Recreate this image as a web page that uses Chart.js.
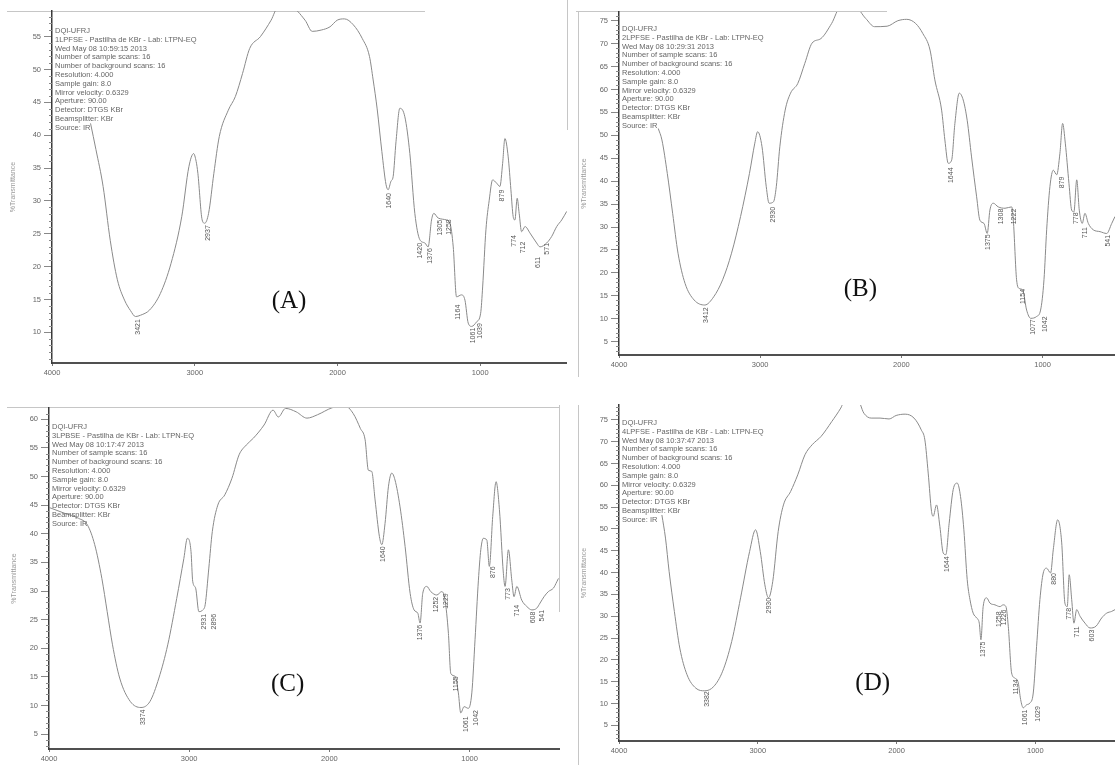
<!DOCTYPE html>
<html>
<head>
<meta charset="utf-8">
<script src="https://cdn.jsdelivr.net/npm/chart.js@4.4.0/dist/chart.umd.min.js"></script>
<style>
  body { margin: 0; background: #fff; width: 1115px; height: 770px; position: relative; overflow: hidden; }
  canvas { position: absolute; }
  .rule { position: absolute; background: #c6c6c6; }
</style>
</head>
<body>
<div class="rule" style="left:7px;top:11px;width:418px;height:1px"></div>
<div class="rule" style="left:576px;top:11px;width:311px;height:1px"></div>
<div class="rule" style="left:578px;top:12px;width:1px;height:365px"></div>
<div class="rule" style="left:567px;top:0px;width:1px;height:130px"></div>
<div class="rule" style="left:7px;top:407px;width:552px;height:1px"></div>
<div class="rule" style="left:559px;top:405px;width:1px;height:207px"></div>
<div class="rule" style="left:578px;top:405px;width:1px;height:360px"></div>

<canvas id="chartA" width="567" height="385" style="left:0;top:0"></canvas>
<canvas id="chartB" width="548" height="385" style="left:567px;top:0"></canvas>
<canvas id="chartC" width="560" height="385" style="left:0;top:385px"></canvas>
<canvas id="chartD" width="548" height="385" style="left:567px;top:385px"></canvas>

<script>
// wavenumber ticks shared by all panels
const xTicks = [4000, 3000, 2000, 1000];

// ---- (A) ----
const waveA = [3730, 3692, 3642, 3592, 3542, 3492, 3450, 3415, 3380, 3316, 3241, 3166, 3091, 3041, 3008, 2990, 2978, 2948, 2930, 2903, 2866, 2828, 2765, 2715, 2665, 2615, 2540, 2465, 2415, 2330, 2227, 2177, 2114, 2052, 2002, 1951, 1889, 1826, 1776, 1750, 1722, 1689, 1660, 1645, 1625, 1610, 1590, 1563, 1528, 1493, 1458, 1423, 1388, 1365, 1341, 1325, 1295, 1236, 1212, 1189, 1166, 1131, 1107, 1084, 1060, 1025, 997, 983, 960, 937, 913, 885, 862, 843, 827, 804, 785, 769, 757, 741, 727, 710, 686, 651, 605, 581, 534, 499, 464, 429, 394];
const transA = [41.8, 37.8, 32.2, 24.0, 18.0, 14.9, 13.3, 12.4, 12.6, 13.4, 15.9, 20.5, 27.6, 35.2, 37.2, 36.0, 34.2, 27.1, 26.6, 28.1, 34.2, 39.8, 43.8, 45.9, 49.4, 53.2, 55.0, 57.5, 59.5, 59.5, 57.5, 55.8, 56.0, 56.5, 57.5, 57.7, 56.8, 54.7, 52.0, 48.4, 44.0, 37.5, 32.5, 31.7, 33.0, 33.7, 39.0, 44.1, 42.8, 37.2, 28.1, 24.1, 23.6, 23.0, 27.1, 28.1, 27.4, 27.1, 26.6, 23.0, 15.4, 15.7, 14.9, 11.4, 10.9, 11.6, 12.9, 16.9, 25.6, 30.1, 33.2, 32.7, 32.2, 35.7, 39.5, 36.7, 31.7, 27.6, 27.1, 30.4, 28.1, 25.3, 26.1, 25.1, 23.6, 23.0, 23.6, 24.6, 26.1, 27.1, 28.4];
const yTicksA = [10, 15, 20, 25, 30, 35, 40, 45, 50, 55];
const peakTextA = ['3421', '2937', '1640', '1420', '1376', '1305', '1258', '1164', '1061', '1039', '879', '774', '712', '611', '571'];
const peakWaveA = [3396, 2908, 1638, 1423, 1353, 1283, 1219, 1154, 1053, 1002, 850, 764, 698, 593, 534];
const peakTopA = [12.0, 26.3, 31.2, 23.6, 22.8, 27.1, 27.2, 14.2, 10.7, 11.4, 31.7, 24.8, 23.8, 21.5, 23.6];

// ---- (B) ----
const waveB = [3722, 3696, 3658, 3620, 3582, 3532, 3468, 3392, 3329, 3266, 3203, 3139, 3076, 3038, 3018, 2987, 2957, 2937, 2906, 2886, 2861, 2823, 2785, 2734, 2684, 2633, 2570, 2494, 2430, 2329, 2253, 2190, 2101, 2025, 1962, 1899, 1848, 1797, 1763, 1715, 1692, 1668, 1644, 1621, 1590, 1562, 1534, 1503, 1467, 1444, 1415, 1392, 1373, 1349, 1314, 1266, 1219, 1207, 1184, 1165, 1141, 1113, 1084, 1042, 1014, 990, 971, 948, 924, 900, 877, 858, 839, 813, 794, 778, 758, 740, 719, 700, 676, 641, 593, 546, 510, 487];
const transB = [51.5, 49.0, 41.7, 33.0, 24.3, 17.7, 14.1, 13.0, 14.8, 18.5, 24.3, 32.3, 41.7, 48.3, 50.8, 47.5, 38.8, 35.2, 35.5, 38.8, 47.5, 55.5, 59.2, 61.3, 65.7, 70.1, 71.1, 74.4, 78, 78, 75.5, 73.7, 73.8, 75.0, 75.3, 74.4, 72.2, 68.6, 62.1, 55.5, 49.0, 43.9, 44.6, 52.6, 59.2, 57.7, 53.3, 45.3, 36.6, 31.5, 30.8, 28.6, 33.7, 35.2, 34.4, 34.1, 34.4, 31.5, 18.5, 16.6, 16.3, 11.9, 10.1, 10.5, 11.9, 18.5, 29.4, 38.8, 42.4, 41.4, 46.1, 52.6, 48.3, 39.5, 33.7, 33.3, 40.3, 33.7, 30.8, 33.0, 30.8, 29.4, 29.0, 28.6, 30.8, 32.3];
const yTicksB = [5, 10, 15, 20, 25, 30, 35, 40, 45, 50, 55, 60, 65, 70, 75];
const peakTextB = ['3412', '2930', '1644', '1375', '1308', '1222', '1154', '1077', '1042', '879', '778', '711', '541'];
const peakWaveB = [3380, 2906, 1649, 1385, 1297, 1203, 1137, 1070, 983, 865, 763, 700, 534];
const peakTopB = [12.5, 34.4, 43.0, 28.4, 34.0, 34.0, 16.5, 9.9, 10.5, 41.0, 33.2, 30.0, 28.3];

// ---- (C) ----
const waveC = [4000, 3891, 3789, 3725, 3674, 3623, 3585, 3547, 3496, 3420, 3344, 3280, 3216, 3153, 3089, 3038, 3013, 2987, 2975, 2954, 2931, 2903, 2886, 2860, 2835, 2796, 2746, 2695, 2644, 2593, 2542, 2466, 2402, 2364, 2313, 2237, 2160, 2084, 1982, 1893, 1830, 1779, 1745, 1722, 1698, 1674, 1643, 1626, 1603, 1579, 1555, 1532, 1496, 1460, 1424, 1396, 1369, 1353, 1334, 1305, 1277, 1234, 1198, 1175, 1151, 1134, 1103, 1080, 1063, 1039, 1009, 984, 961, 937, 920, 902, 877, 859, 835, 811, 787, 759, 747, 723, 699, 683, 663, 628, 592, 556, 521, 497, 469, 438, 402, 378, 366];
const transC = [44.6, 43.6, 42.7, 41.5, 38.1, 32.2, 26.4, 20.6, 14.8, 10.7, 9.65, 10.7, 14.8, 20.6, 28.7, 35.7, 39.2, 36.9, 31.7, 30.5, 26.4, 26.7, 27.6, 34.0, 40.4, 45.0, 46.8, 49.7, 53.8, 55.5, 56.7, 59.0, 61.6, 60.4, 61.9, 61.3, 60.2, 60.8, 62.0, 62.4, 61.0, 58.4, 56.4, 51.1, 50.9, 45.9, 39.5, 38.1, 41.8, 48.2, 50.6, 49.4, 44.7, 37.8, 29.6, 26.7, 26.1, 24.4, 29.6, 30.8, 29.9, 29.3, 29.9, 28.4, 22.6, 15.6, 15.1, 12.2, 8.7, 9.8, 9.5, 12.2, 21.5, 31.9, 37.2, 39.2, 38.9, 34.3, 43.0, 49.1, 44.2, 33.1, 30.8, 37.2, 31.9, 29.0, 30.8, 28.4, 27.3, 26.7, 27.0, 27.9, 29.0, 29.9, 30.5, 31.6, 32.2];
const yTicksC = [5, 10, 15, 20, 25, 30, 35, 40, 45, 50, 55, 60];
const peakTextC = ['3374', '2931', '2896', '1640', '1376', '1252', '1229', '1155', '1061', '1042', '876', '773', '714', '608', '541'];
const peakWaveC = [3330, 2897, 2825, 1615, 1353, 1239, 1168, 1096, 1025, 953, 835, 723, 663, 549, 485];
const peakTopC = [9.3, 26.0, 26.0, 37.8, 24.1, 29.0, 29.6, 15.1, 8.1, 9.2, 34.3, 30.5, 27.6, 26.4, 26.7];

// ---- (D) ----
const waveD = [3691, 3665, 3639, 3601, 3562, 3510, 3446, 3382, 3317, 3253, 3188, 3124, 3059, 3016, 2982, 2949, 2923, 2892, 2853, 2815, 2763, 2712, 2660, 2608, 2544, 2467, 2402, 2364, 2286, 2235, 2183, 2119, 2054, 2003, 1938, 1874, 1822, 1796, 1772, 1748, 1736, 1712, 1688, 1664, 1645, 1621, 1592, 1563, 1539, 1515, 1491, 1471, 1448, 1423, 1404, 1392, 1376, 1351, 1327, 1291, 1255, 1232, 1212, 1195, 1171, 1147, 1123, 1106, 1087, 1063, 1039, 1015, 991, 967, 943, 919, 890, 871, 839, 810, 787, 770, 756, 738, 722, 702, 678, 642, 606, 563, 522, 486, 450, 426];
const transD = [53.2, 47.9, 40.3, 31.1, 22.7, 16.6, 13.5, 12.9, 13.9, 17.4, 24.2, 34.2, 44.8, 49.8, 44.8, 37.2, 34.2, 38.0, 49.4, 55.5, 58.6, 62.4, 67.0, 69.3, 71.2, 74.6, 77.7, 80, 80, 76.5, 75.4, 75.4, 75.2, 76.0, 76.3, 75.4, 72.7, 70.4, 62.8, 54.0, 52.9, 55.5, 50.6, 44.5, 44.1, 51.3, 59.0, 60.5, 57.4, 49.8, 38.4, 33.8, 30.7, 29.6, 28.4, 24.6, 32.2, 34.2, 33.0, 32.6, 32.2, 32.6, 32.2, 27.7, 17.0, 15.8, 14.7, 10.9, 9.0, 9.7, 10.1, 12.4, 23.1, 33.8, 39.9, 41.0, 39.9, 45.2, 52.1, 46.8, 33.0, 32.2, 39.5, 33.8, 28.4, 31.5, 30.0, 28.4, 27.3, 27.7, 29.6, 30.7, 31.1, 31.5];
const yTicksD = [5, 10, 15, 20, 25, 30, 35, 40, 45, 50, 55, 60, 65, 70, 75];
const peakTextD = ['3382', '2930', '1644', '1375', '1258', '1226', '1134', '1061', '1029', '880', '778', '711', '603'];
const peakWaveD = [3369, 2918, 1635, 1380, 1260, 1226, 1140, 1075, 979, 866, 756, 698, 594];
const peakTopD = [12.8, 34.2, 43.7, 24.2, 31.1, 31.5, 15.5, 8.6, 9.4, 39.9, 31.9, 27.7, 26.9];

// instrument header printed in each panel
function header(sample, stamp) {
  return ['DQI-UFRJ', sample + ' - Pastilha de KBr - Lab: LTPN-EQ', 'Wed May 08 ' + stamp + ' 2013',
    'Number of sample scans: 16', 'Number of background scans: 16', 'Resolution: 4.000',
    'Sample gain: 8.0', 'Mirror velocity: 0.6329', 'Aperture: 90.00', 'Detector: DTGS KBr',
    'Beamsplitter: KBr', 'Source: IR'];
}

// draws minor ticks, header text, peak labels and the panel letter
function overlay(p) {
  return {
    id: 'overlay',
    afterDraw(chart) {
      const { ctx, chartArea: a, scales: { x, y } } = chart;
      ctx.save();
      ctx.strokeStyle = '#888';
      ctx.lineWidth = 1;
      for (let v = Math.ceil(y.min); v <= y.max; v++) {
        if (v % 5 === 0) continue;
        const py = Math.round(y.getPixelForValue(v)) + 0.5;
        ctx.beginPath();
        ctx.moveTo(a.left - 3, py);
        ctx.lineTo(a.left, py);
        ctx.stroke();
      }

      ctx.fillStyle = '#666';
      ctx.font = '7.5px "Liberation Sans"';
      ctx.textAlign = 'left';
      ctx.textBaseline = 'middle';
      p.info.forEach((t, i) => ctx.fillText(t, a.left + 3, a.top + p.infoTop + i * 8.8));

      ctx.fillStyle = '#555';
      ctx.font = '7px "Liberation Sans"';
      ctx.textAlign = 'right';
      p.peakText.forEach((t, i) => {
        ctx.save();
        ctx.translate(x.getPixelForValue(p.peakWave[i]), y.getPixelForValue(p.peakTop[i]));
        ctx.rotate(-Math.PI / 2);
        ctx.fillText(t, 0, 0);
        ctx.restore();
      });

      ctx.fillStyle = '#111';
      ctx.font = '25px "Liberation Serif"';
      ctx.textAlign = 'center';
      ctx.fillText(p.letter, x.getPixelForValue(p.letterAt[0]), y.getPixelForValue(p.letterAt[1]));
      ctx.restore();
    }
  };
}

function build(id, p) {
  new Chart(document.getElementById(id), {
    type: 'line',
    data: {
      datasets: [{
        data: p.wave.map((w, i) => ({ x: w, y: p.trans[i] })),
        borderColor: '#8a8a8a',
        borderWidth: 1,
        pointRadius: 0,
        cubicInterpolationMode: 'monotone'
      }]
    },
    options: {
      responsive: false,
      animation: false,
      devicePixelRatio: 1,
      layout: { padding: { top: p.top, left: 0, right: 0, bottom: 0 } },
      plugins: { legend: { display: false }, tooltip: { enabled: false } },
      scales: {
        x: {
          type: 'linear',
          reverse: true,
          min: p.xMin,
          max: 4000,
          afterBuildTicks: s => { s.ticks = xTicks.map(v => ({ value: v })); },
          afterFit: s => { s.height = p.xH; s.paddingLeft = 0; s.paddingRight = 0; },
          grid: { display: true, drawOnChartArea: false, tickLength: 3, tickColor: '#777' },
          border: { display: true, color: '#505050', width: 2 },
          ticks: { color: '#666', font: { size: 7.5, family: 'Liberation Sans' }, padding: 2, maxRotation: 0, autoSkip: false, callback: v => String(v) }
        },
        y: {
          min: p.yMin,
          max: p.yMax,
          afterBuildTicks: s => { s.ticks = p.yTicks.map(v => ({ value: v })); },
          afterFit: s => { s.width = p.yW; s.paddingTop = 0; s.paddingBottom = 0; },
          grid: { display: true, drawOnChartArea: false, tickLength: 8, tickColor: '#888' },
          border: { display: true, color: '#3a3a3a', width: 1.5 },
          ticks: { color: '#666', font: { size: 7.5, family: 'Liberation Sans' }, padding: 3 },
          title: { display: true, text: '%Transmittance', color: '#999', font: { size: 7, family: 'Liberation Sans' }, padding: { top: p.titlePad, bottom: 0 } }
        }
      }
    },
    plugins: [overlay(p)]
  });
}

build('chartA', {
  wave: waveA, trans: transA, yTicks: yTicksA, peakText: peakTextA, peakWave: peakWaveA, peakTop: peakTopA,
  info: header('1LPFSE', '10:59:15'), letter: '(A)', letterAt: [2339, 14.7],
  xMin: 392, yMin: 5.33, yMax: 58.9, top: 11, xH: 22, yW: 52, titlePad: 9, infoTop: 20
});
build('chartB', {
  wave: waveB, trans: transB, yTicks: yTicksB, peakText: peakTextB, peakWave: peakWaveB, peakTop: peakTopB,
  info: header('2LPFSE', '10:29:31'), letter: '(B)', letterAt: [2291, 16.3],
  xMin: 487, yMin: 2.1, yMax: 76.9, top: 12, xH: 30, yW: 52, titlePad: 12.5, infoTop: 17
});
build('chartC', {
  wave: waveC, trans: transC, yTicks: yTicksC, peakText: peakTextC, peakWave: peakWaveC, peakTop: peakTopC,
  info: header('3LPBSE', '10:17:47'), letter: '(C)', letterAt: [2298, 13.6],
  xMin: 355, yMin: 2.4, yMax: 61.97, top: 23, xH: 21, yW: 49, titlePad: 9.4, infoTop: 19
});
build('chartD', {
  wave: waveD, trans: transD, yTicks: yTicksD, peakText: peakTextD, peakWave: peakWaveD, peakTop: peakTopD,
  info: header('4LPFSE', '10:37:47'), letter: '(D)', letterAt: [2172, 14.7],
  xMin: 426, yMin: 1.4, yMax: 78.4, top: 20, xH: 29, yW: 52, titlePad: 12.4, infoTop: 18
});
</script>
</body>
</html>
